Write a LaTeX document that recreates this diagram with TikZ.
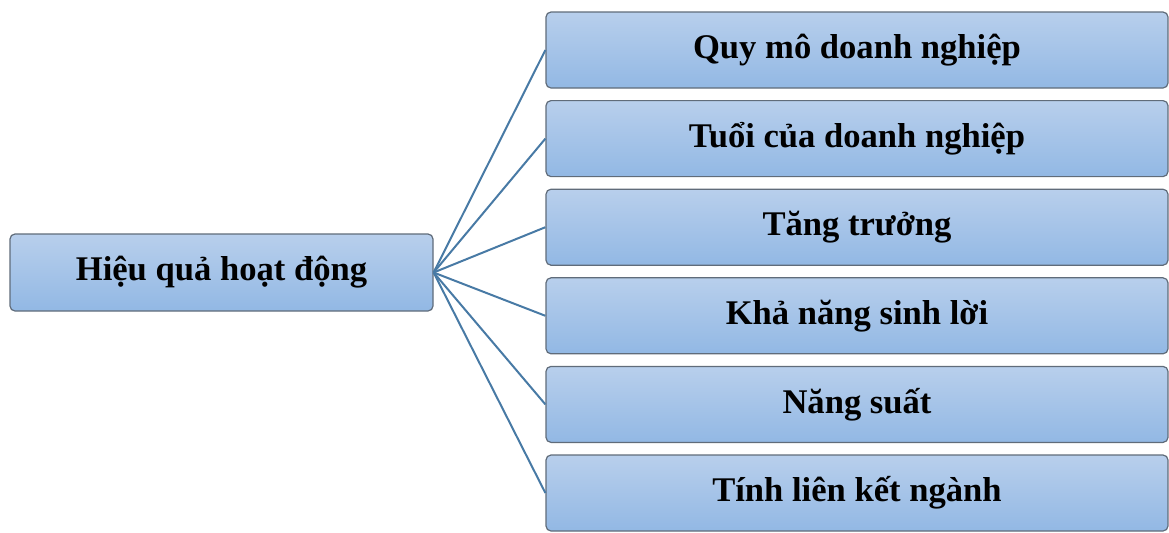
\documentclass[tikz,border=0pt]{standalone}
\usepackage{fontspec}
\setmainfont{Liberation Serif}
\definecolor{boxtop}{RGB}{184,207,236}
\definecolor{boxbot}{RGB}{146,184,228}
\definecolor{boxline}{RGB}{96,108,122}
\definecolor{linkblue}{RGB}{72,122,165}

\begin{document}
\begin{tikzpicture}[x=0.5pt,y=-0.5pt]
\tikzset{box/.style={draw=boxline,line width=0.6pt,rounded corners=2.5pt,top color=boxtop,bottom color=boxbot,inner sep=0pt,minimum height=38pt,font=\fontsize{17.3}{20}\selectfont\bfseries},
  item/.style={box,minimum width=311pt},
  link/.style={draw=linkblue,line width=1pt}}
\useasboundingbox (0,0) rectangle (1169,532);

\node[box,minimum width=211.5pt,minimum height=38.5pt] (hqhd) at (221.5,272.5) {Hiệu quả hoạt động};

\node[item] (quymo) at (857,50) {Quy mô doanh nghiệp};
\node[item] (tuoi) at (857,138.6) {Tuổi của doanh nghiệp};
\node[item] (tangtruong) at (857,227.2) {Tăng trưởng};
\node[item] (sinhloi) at (857,315.8) {Khả năng sinh lời};
\node[item] (nangsuat) at (857,404.4) {Năng suất};
\node[item] (lienket) at (857,493) {Tính liên kết ngành};

% nhanh
\draw[link] (hqhd.east) -- (quymo.west);
\draw[link] (hqhd.east) -- (tuoi.west);
\draw[link] (hqhd.east) -- (tangtruong.west);
\draw[link] (hqhd.east) -- (sinhloi.west);
\draw[link] (hqhd.east) -- (nangsuat.west);
\draw[link] (hqhd.east) -- (lienket.west);
\end{tikzpicture}
\end{document}
